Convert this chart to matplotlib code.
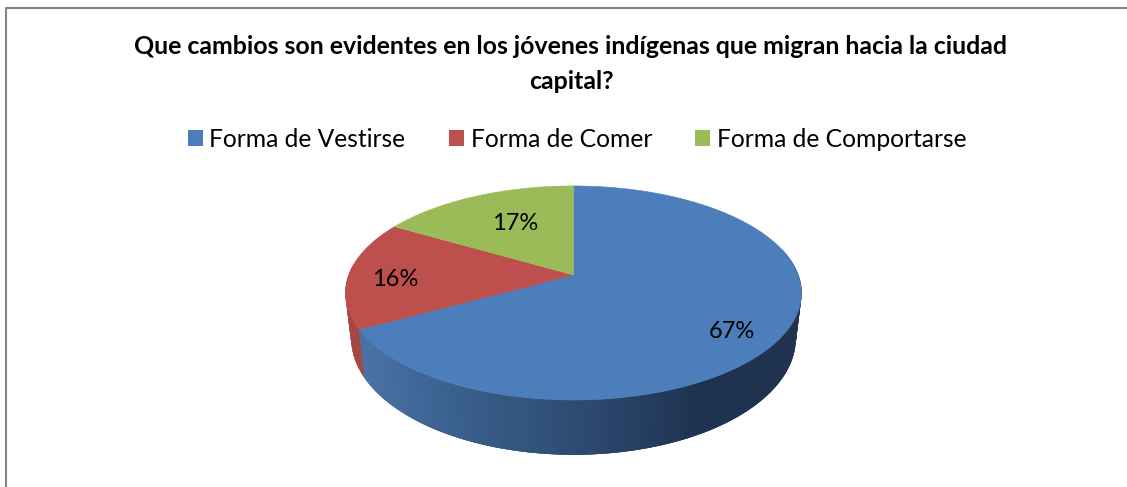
import numpy as np
import matplotlib
matplotlib.use('Agg')
import matplotlib.pyplot as plt
from matplotlib.patches import Patch, Polygon

title = 'Que cambios son evidentes en los jóvenes indígenas que migran hacia la ciudad\ncapital?'
labels = ['Forma de Vestirse', 'Forma de Comer', 'Forma de Comportarse']
values = [67, 16.4, 16.6]
pct_labels = ['67%', '16%', '17%']
colors = ['#4c7ebb', '#bd4f4c', '#9bbb59']
wall_red = '#a84643'
wall_x = [360, 450, 573, 700, 800]
wall_rgb = [(0.29, 0.45, 0.65), (0.23, 0.38, 0.56), (0.18, 0.30, 0.45), (0.12, 0.20, 0.32), (0.12, 0.20, 0.31)]

plt.rcParams['font.family'] = ['Lato', 'DejaVu Sans']

fig = plt.figure(figsize=(11.27, 4.87), dpi=100)
ax = fig.add_axes([0, 0, 1, 1])
ax.set_xlim(0, 1127)
ax.set_ylim(487, 0)
ax.axis('off')

# perspective circle -> screen, theta clockwise from the top in degrees
def project(theta, lower=False):
    t = np.radians(theta)
    x = np.sin(t)
    v = -np.cos(t)
    w = 1 - 0.168 * v
    sx = 224.8 * x / w
    sy = 104 * v / w
    if lower:
        return 573.5 + 0.975 * sx, 318.5 + 1.09 * sy
    return 573.5 + sx, 275 + sy

# chart frame, open on the right and the bottom
ax.plot([6, 6, 1127], [487, 8, 8], color='#868686', lw=1.5)

edges = np.cumsum([0] + values) / sum(values) * 360

# side wall, strips overlap so no seams show
for a in np.arange(75, 275, 0.5):
    b = a + 1.5
    xa, ya = project(a)
    xb, yb = project(b)
    xc, yc = project(b, True)
    xd, yd = project(a, True)
    if a >= edges[1]:
        c = wall_red
    else:
        c = [np.interp(xa, wall_x, [r[i] for r in wall_rgb]) for i in range(3)]
    ax.add_patch(Polygon([(xa, ya), (xb, yb), (xc, yc), (xd, yd)], closed=True, facecolor=c, edgecolor='none'))

# top face
for i in range(3):
    th = np.linspace(edges[i], edges[i + 1], 200)
    px, py = project(th)
    pts = [(573.5, 275)] + list(zip(px, py))
    ax.add_patch(Polygon(pts, closed=True, facecolor=colors[i], edgecolor=colors[i], lw=0.4, zorder=3))

pct_pos = [(732, 332), (395, 279), (515, 224)]
for s, p in zip(pct_labels, pct_pos):
    ax.text(p[0], p[1], s, ha='center', va='center', fontsize=17, color='black', zorder=5)

ax.text(571, 64, title, ha='center', va='center', fontsize=17.9, fontweight='bold', color='black', linespacing=1.6)

handles = [Patch(facecolor=c, edgecolor='none') for c in colors]
ax.legend(handles, labels, loc='center', bbox_to_anchor=(577 / 1127, 1 - 139 / 487), ncol=3, frameon=False,
          fontsize=17.7, handlelength=0.61, handleheight=0.61, handletextpad=0.28, columnspacing=1.75)

fig.savefig('out.png', dpi=100)
